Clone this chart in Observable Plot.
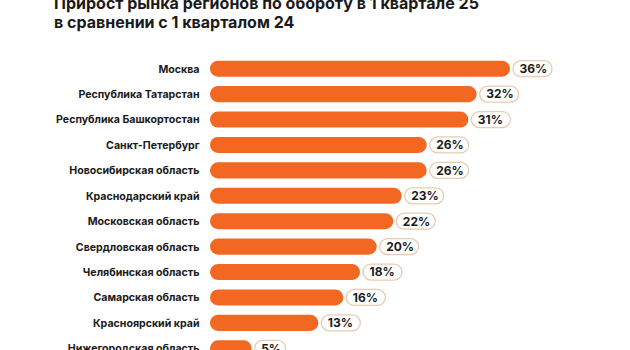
<!DOCTYPE html>
<html>
<head>
<meta charset="utf-8">
<script src="https://cdn.jsdelivr.net/npm/d3@7"></script>
<script src="https://cdn.jsdelivr.net/npm/@observablehq/plot@0.6"></script>
<style>
  html, body { margin: 0; padding: 0; background: #fff; overflow: hidden; }
  #wrap { position: relative; width: 630px; height: 350px; overflow: hidden; }
  #title {
    position: absolute; left: 54px; top: -6px;
    font-family: Inter, "Noto Sans", sans-serif; font-weight: 700; font-size: 16px;
    line-height: 19px; color: #1a1a1a;
  }
  #chart { position: absolute; left: 0; top: 0; }
  #chart svg { font-family: Inter, "Noto Sans", sans-serif; }
  #chart g[aria-label^="y-axis"] text { font-weight: 700; font-size: 10.6px; fill: #1b1b1b; }
</style>
</head>
<body>
<div id="wrap">
  <div id="title">Прирост рынка регионов по обороту в 1 квартале 25<br>в сравнении с 1 кварталом 24</div>
  <div id="chart"></div>
</div>
<script>
const regions = [
  "Москва",
  "Республика Татарстан",
  "Республика Башкортостан",
  "Санкт-Петербург",
  "Новосибирская область",
  "Краснодарский край",
  "Московская область",
  "Свердловская область",
  "Челябинская область",
  "Самарская область",
  "Красноярский край",
  "Нижегородская область"
];
const values = [36, 32, 31, 26, 26, 23, 22, 20, 18, 16, 13, 5];
const valueLabels = ["36%", "32%", "31%", "26%", "26%", "23%", "22%", "20%", "18%", "16%", "13%", "5%"];

const data = regions.map((r, i) => ({region: r, value: values[i], label: valueLabels[i]}));
const wide = data.filter(d => d.label.length > 2);
const narrow = data.filter(d => d.label.length <= 2);

const pill = {y: "region", x1: "value", x2: "value", insetLeft: 3, fill: "#ffffff", stroke: "#e8cbb1", strokeWidth: 1.3, rx: 8};

const chart = Plot.plot({
  width: 630,
  height: 380,
  marginLeft: 210,
  marginRight: 120,
  marginTop: 56,
  marginBottom: 19,
  x: {domain: [0, 36], axis: null},
  y: {domain: regions, paddingInner: 0.37, paddingOuter: 0.185, round: false, label: null, tickSize: 0, tickPadding: 11},
  marks: [
    Plot.barX(data, {y: "region", x: "value", fill: "#f26822", rx: 8}),
    Plot.barX(wide, {...pill, insetRight: -42}),
    Plot.barX(narrow, {...pill, insetRight: -34}),
    Plot.text(data, {y: "region", x: "value", text: "label", textAnchor: "start", dx: 9, fontWeight: 700, fontSize: 12, fill: "#1b1b1b"})
  ]
});
document.getElementById("chart").appendChild(chart);
</script>
</body>
</html>
